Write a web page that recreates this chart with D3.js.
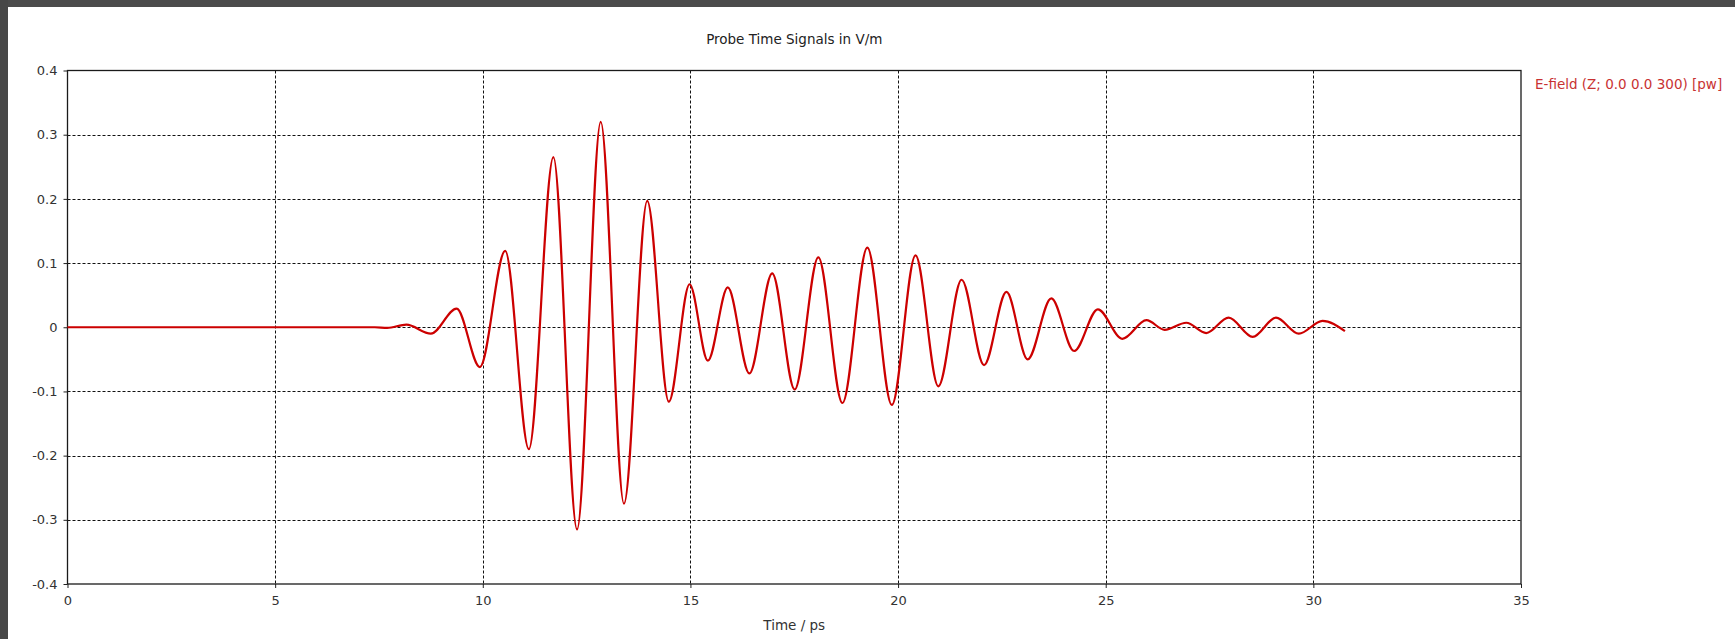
<!DOCTYPE html>
<html>
<head>
<meta charset="utf-8">
<script src="https://cdn.jsdelivr.net/npm/d3@7"></script>
<style>
  body { margin: 0; background: #fff; }
  text { font-family: "DejaVu Sans", Verdana, sans-serif; }
</style>
</head>
<body>
<div id="chart"></div>
<script>
// Probe signal: extrema of the ringing pulse
const timePs = [0, 7.4, 7.7, 8.16, 8.75, 9.37, 9.93, 10.54, 11.11, 11.70, 12.27, 12.84, 13.40, 13.96,
    14.48, 14.98, 15.42, 15.90, 16.42, 16.97, 17.51, 18.08, 18.66, 19.26, 19.85, 20.42, 20.97,
    21.53, 22.07, 22.61, 23.12, 23.69, 24.24, 24.81, 25.40, 25.98, 26.42, 26.94, 27.42, 27.96,
    28.54, 29.10, 29.65, 30.22, 30.76];
const eField = [0, 0, -0.001, 0.004, -0.010, 0.029, -0.062, 0.119, -0.190, 0.265, -0.315, 0.320, -0.275, 0.197,
    -0.116, 0.067, -0.052, 0.062, -0.072, 0.084, -0.097, 0.109, -0.118, 0.124, -0.121, 0.112, -0.092,
    0.074, -0.059, 0.055, -0.050, 0.045, -0.037, 0.028, -0.018, 0.011, -0.004, 0.007, -0.009, 0.015,
    -0.015, 0.015, -0.010, 0.010, -0.006];

const xTicks = [0, 5, 10, 15, 20, 25, 30, 35];
const yTicks = [-0.4, -0.3, -0.2, -0.1, 0, 0.1, 0.2, 0.3, 0.4];

const chartTitle = "Probe Time Signals in V/m";
const xLabel = "Time / ps";
const seriesName = "E-field (Z; 0.0 0.0 300) [pw]";

const width = 1735, height = 639;
const margin = {top: 70.5, right: 214, bottom: 55, left: 67.5};

const svg = d3.select("#chart")
    .append("svg")
    .attr("width", width)
    .attr("height", height);

// window frame bits at top and left
svg.append("rect").attr("x", 0).attr("y", 0).attr("width", width).attr("height", 7).attr("fill", "#4b4b4b");
svg.append("rect").attr("x", 0).attr("y", 0).attr("width", 8).attr("height", height).attr("fill", "#474747");

const x = d3.scaleLinear()
    .domain([0, 35])
    .range([margin.left, width - margin.right]);

const y = d3.scaleLinear()
    .domain([-0.4, 0.4])
    .range([height - margin.bottom, margin.top]);

// dashed grid
svg.append("g")
    .selectAll("line")
    .data(xTicks.slice(1, -1))
    .enter().append("line")
    .attr("x1", d => Math.round(x(d)) + 0.5)
    .attr("x2", d => Math.round(x(d)) + 0.5)
    .attr("y1", y(0.4))
    .attr("y2", y(-0.4))
    .attr("stroke", "#111")
    .attr("stroke-dasharray", "3,2");

svg.append("g")
    .selectAll("line")
    .data(yTicks.slice(1, -1))
    .enter().append("line")
    .attr("x1", x(0))
    .attr("x2", x(35))
    .attr("y1", d => Math.round(y(d)) + 0.5)
    .attr("y2", d => Math.round(y(d)) + 0.5)
    .attr("stroke", "#111")
    .attr("stroke-dasharray", "3,2");

// axes
const fmt = d => String(+d.toFixed(1));

const xAxis = svg.append("g")
    .attr("transform", `translate(0,${y(-0.4)})`)
    .call(d3.axisBottom(x).tickValues(xTicks).tickFormat(fmt).tickSize(4).tickSizeOuter(0).tickPadding(8));

const yAxis = svg.append("g")
    .attr("transform", `translate(${x(0)},0)`)
    .call(d3.axisLeft(y).tickValues(yTicks).tickFormat(fmt).tickSize(4).tickSizeOuter(0).tickPadding(6));

[xAxis, yAxis].forEach(ax => {
    ax.select(".domain").remove();
    ax.selectAll("line").attr("stroke", "#222");
    ax.selectAll("text")
        .attr("fill", "#333")
        .style("font-size", "13px")
        .style("font-family", "'DejaVu Sans', Verdana, sans-serif");
});

// plot frame
svg.append("rect")
    .attr("x", x(0))
    .attr("y", y(0.4))
    .attr("width", x(35) - x(0))
    .attr("height", y(-0.4) - y(0.4))
    .attr("fill", "none")
    .attr("stroke", "#1a1a1a")
    .attr("stroke-width", 1.3);

// signal
const line = d3.line()
    .x((d, i) => x(timePs[i]))
    .y(d => y(d))
    .curve(d3.curveMonotoneX);

svg.append("path")
    .datum(eField)
    .attr("d", line)
    .attr("fill", "none")
    .attr("stroke", "#cc0000")
    .attr("stroke-width", 2.2)
    .attr("stroke-linejoin", "round");

// titles
svg.append("text")
    .attr("x", (x(0) + x(35)) / 2)
    .attr("y", 44)
    .attr("text-anchor", "middle")
    .attr("fill", "#222")
    .style("font-size", "13.5px")
    .text(chartTitle);

svg.append("text")
    .attr("x", (x(0) + x(35)) / 2)
    .attr("y", 630)
    .attr("text-anchor", "middle")
    .attr("fill", "#333")
    .style("font-size", "13.5px")
    .text(xLabel);

// legend
svg.append("text")
    .attr("x", 1535)
    .attr("y", 89)
    .attr("fill", "#c83232")
    .style("font-size", "13.5px")
    .text(seriesName);
</script>
</body>
</html>
